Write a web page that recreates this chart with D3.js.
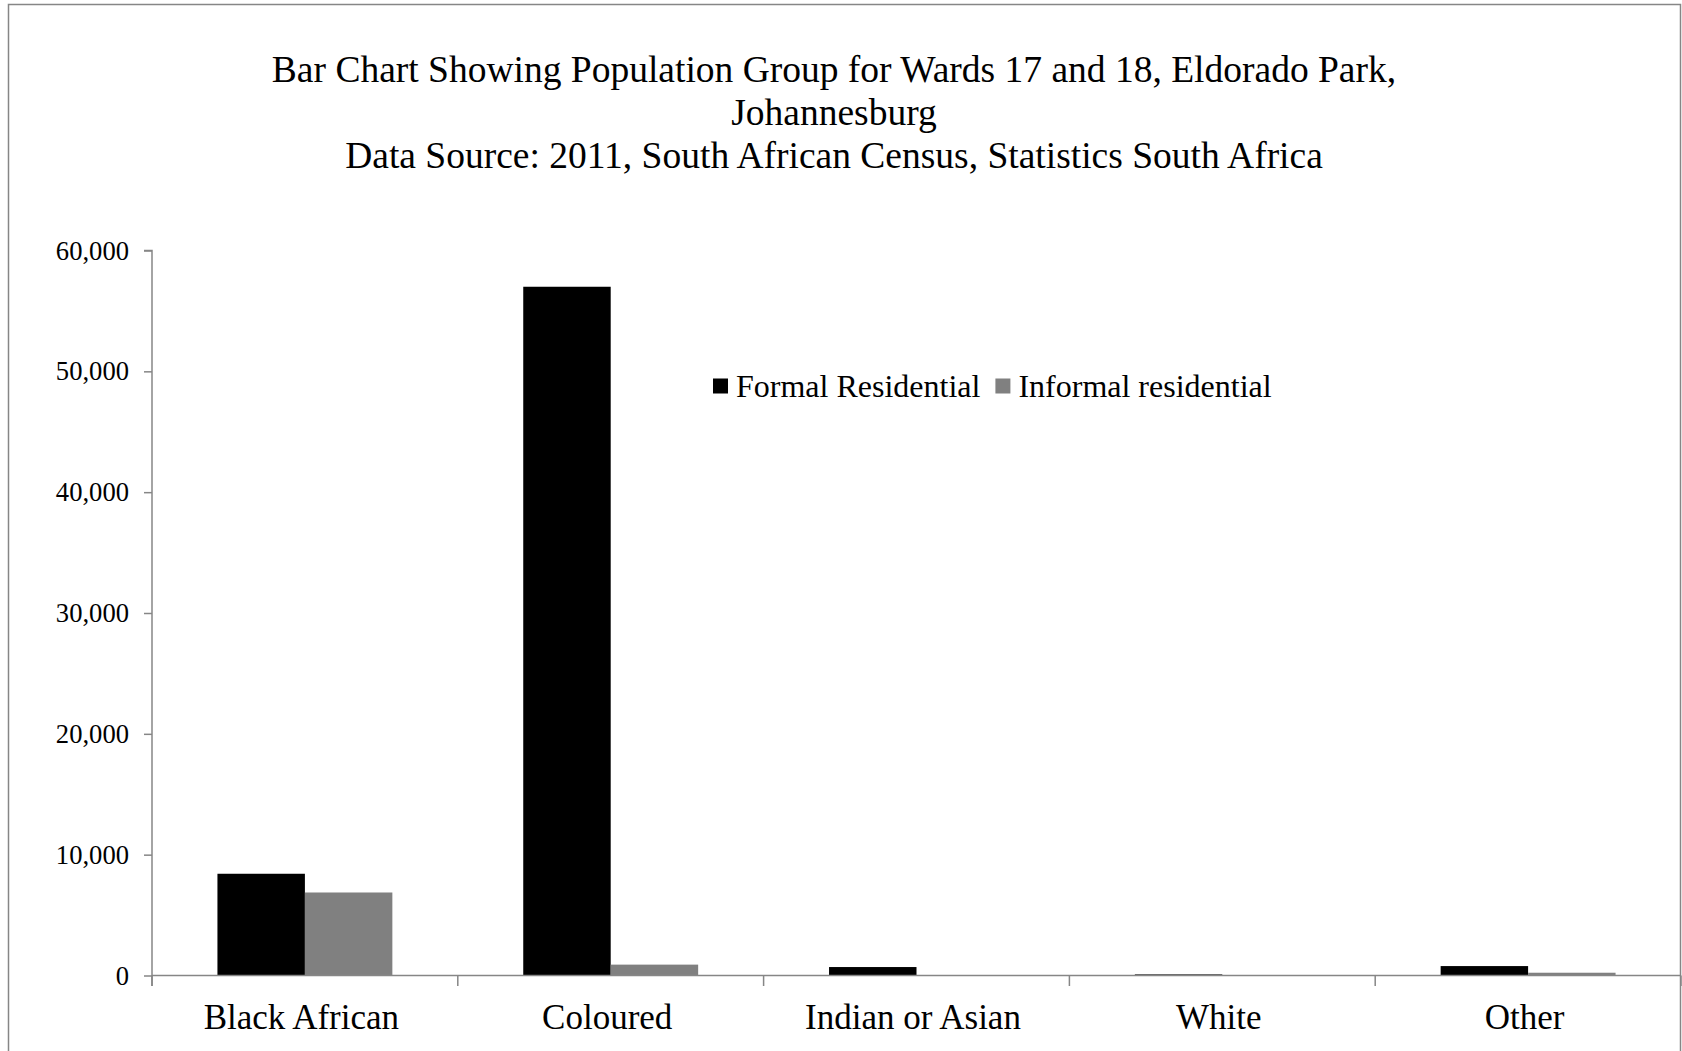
<!DOCTYPE html>
<html>
<head>
<meta charset="utf-8">
<script src="https://cdn.jsdelivr.net/npm/d3@7"></script>
<style>
  body { margin: 0; background: #fff; }
  svg { display: block; }
  text { font-family: "Liberation Serif", "Times New Roman", serif; fill: #000; }
</style>
</head>
<body>
<svg id="chart" width="1682" height="1051"></svg>
<script>
const titleLines = [
  "Bar Chart Showing Population Group for Wards 17 and 18, Eldorado Park,",
  "Johannesburg",
  "Data Source: 2011, South African Census, Statistics South Africa"
];
const categories = ["Black African", "Coloured", "Indian or Asian", "White", "Other"];
const seriesNames = ["Formal Residential", "Informal residential"];
const formalValues = [8420, 57000, 700, 90, 780];
const informalValues = [6870, 900, 0, 0, 230];
const yTickValues = [0, 10000, 20000, 30000, 40000, 50000, 60000];
const seriesColors = ["#000000", "#808080"];

const svg = d3.select("#chart");
const axisColor = "#868686";

// outer frame
svg.append("rect")
  .attr("x", 8.5).attr("y", 4.5)
  .attr("width", 1672).attr("height", 1060)
  .attr("fill", "none").attr("stroke", axisColor).attr("stroke-width", 1.5);

// title
const titleG = svg.append("g");
titleLines.forEach((t, i) => {
  titleG.append("text")
    .attr("x", 834).attr("y", 82 + i * 43)
    .attr("text-anchor", "middle")
    .attr("font-size", 37.5)
    .text(t);
});

const plotLeft = 152, plotRight = 1681, plotTop = 250.5, plotBottom = 975.5;

const y = d3.scaleLinear().domain([0, 60000]).range([plotBottom, plotTop]);
const pInner = 0.428;
const x0 = d3.scaleBand().domain(categories).range([plotLeft, plotRight])
  .paddingInner(pInner).paddingOuter(pInner / 2);
const x1 = d3.scaleBand().domain(seriesNames).range([0, x0.bandwidth()]).padding(0);

const rows = categories.map((c, i) => ({
  category: c,
  values: [
    { series: seriesNames[0], value: formalValues[i] },
    { series: seriesNames[1], value: informalValues[i] }
  ]
}));

// bars
const groups = svg.append("g").selectAll("g").data(rows).join("g")
  .attr("transform", d => `translate(${x0(d.category)},0)`);
groups.selectAll("rect").data(d => d.values).join("rect")
  .attr("x", d => x1(d.series))
  .attr("width", x1.bandwidth())
  .attr("y", d => y(d.value))
  .attr("height", d => plotBottom - y(d.value))
  .attr("fill", (d, i) => seriesColors[i]);

// y axis
const yAxis = svg.append("g")
  .attr("transform", `translate(${plotLeft},0)`)
  .call(d3.axisLeft(y).tickValues(yTickValues).tickSize(8).tickPadding(15)
    .tickFormat(d3.format(",")));
yAxis.select(".domain").attr("stroke", axisColor).attr("stroke-width", 1.5)
  .attr("d", `M-8,${plotTop}H0V${plotBottom + 10.5}`);
yAxis.selectAll(".tick line").attr("stroke", axisColor).attr("stroke-width", 1.5);
yAxis.selectAll(".tick text").attr("font-size", 26.6)
  .attr("font-family", "Liberation Serif, serif").attr("fill", "#000");

// x axis
const xAxis = svg.append("g")
  .attr("transform", `translate(0,${plotBottom})`)
  .call(d3.axisBottom(x0).tickSize(0).tickPadding(0));
xAxis.select(".domain").attr("stroke", axisColor).attr("stroke-width", 1.5)
  .attr("d", `M${plotLeft},0H${plotRight}`);
xAxis.selectAll(".tick text").attr("font-size", 35)
  .attr("font-family", "Liberation Serif, serif").attr("fill", "#000")
  .attr("dy", null).attr("y", 53).attr("x", -3.5);
const step = x0.step();
const boundaries = categories.map(c => x0(c) + x0.bandwidth() / 2 - step / 2);
boundaries.push(x0(categories[categories.length - 1]) + x0.bandwidth() / 2 + step / 2);
xAxis.selectAll("line.bound").data(boundaries).join("line")
  .attr("class", "bound")
  .attr("x1", d => d).attr("x2", d => d)
  .attr("y1", 0).attr("y2", 10.5)
  .attr("stroke", axisColor).attr("stroke-width", 1.5);

// legend
const legend = svg.append("g").attr("transform", "translate(713,386)");
let lx = 0;
seriesNames.forEach((s, i) => {
  const g = legend.append("g").attr("transform", `translate(${lx},0)`);
  g.append("rect").attr("x", 0).attr("y", -7.5).attr("width", 15).attr("height", 15)
    .attr("fill", seriesColors[i]);
  const t = g.append("text").attr("x", 23).attr("y", 11)
    .attr("font-size", 32).text(s);
  lx += 23 + t.node().getComputedTextLength() + 15;
});
</script>
</body>
</html>
